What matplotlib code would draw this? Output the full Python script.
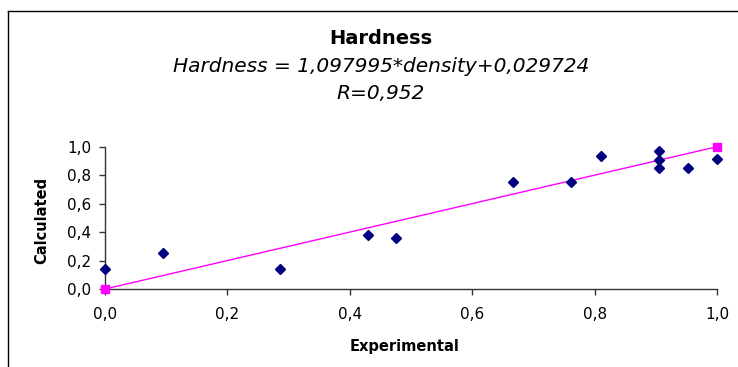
import matplotlib.pyplot as plt
from matplotlib.lines import Line2D

# measured points
experimental = [0.0, 0.095, 0.286, 0.429, 0.476, 0.667, 0.762, 0.810,
                0.905, 0.905, 0.905, 0.952, 1.0]
calculated = [0.143, 0.253, 0.143, 0.377, 0.361, 0.754, 0.754, 0.935,
              0.970, 0.907, 0.848, 0.848, 0.914]

# ideal line endpoints
ideal_x = [0.0, 1.0]
ideal_y = [0.0, 1.0]

ticks = [0.0, 0.2, 0.4, 0.6, 0.8, 1.0]
tick_labels = ["0,0", "0,2", "0,4", "0,6", "0,8", "1,0"]

plt.rcParams["font.family"] = ["DejaVu Sans"]

fig = plt.figure(figsize=(7.38, 3.67), dpi=100)
fig.patch.set_facecolor("white")
ax = fig.add_axes([0.1423, 0.2125, 0.8293, 0.3878])

ax.plot(ideal_x, ideal_y, color="#FF00FF", lw=1.0, marker="s", ms=6,
        clip_on=False, zorder=3)
ax.plot(experimental, calculated, ls="none", marker="D", ms=5,
        color="#000080", clip_on=False, zorder=4)

ax.set_xlim(0, 1.0)
ax.set_ylim(0, 1.0)
ax.set_xticks(ticks)
ax.set_xticklabels(tick_labels)
ax.set_yticks(ticks)
ax.set_yticklabels(tick_labels)
ax.tick_params(direction="out", length=4, width=1, color="#333333",
               labelsize=11, pad=6)
ax.tick_params(axis="x", pad=9)

for side in ("top", "right"):
    ax.spines[side].set_visible(False)
for side in ("left", "bottom"):
    ax.spines[side].set_color("#333333")
    ax.spines[side].set_linewidth(1)

# chart area frame (cropped at right and bottom)
fig.add_artist(Line2D([8 / 738, 8 / 738], [0, 1 - 11 / 367],
                      color="black", lw=1))
fig.add_artist(Line2D([8 / 738, 1], [1 - 11 / 367, 1 - 11 / 367],
                      color="black", lw=1))

cx = 381 / 738
fig.text(cx, 1 - 38 / 367, "Hardness", ha="center", va="center",
         fontsize=14, fontweight="bold")
fig.text(cx, 1 - 66 / 367, "Hardness = 1,097995*density+0,029724",
         ha="center", va="center", fontsize=14.5, style="italic")
fig.text(cx, 1 - 93 / 367, "R=0,952", ha="center", va="center",
         fontsize=14.5, style="italic")

fig.text(405 / 738, 1 - 346 / 367, "Experimental", ha="center", va="center",
         fontsize=10.5, fontweight="bold")
fig.text(42 / 738, 1 - 220 / 367, "Calculated", ha="center", va="center",
         fontsize=10.5, fontweight="bold", rotation=90)

fig.savefig("out.png", dpi=100)
